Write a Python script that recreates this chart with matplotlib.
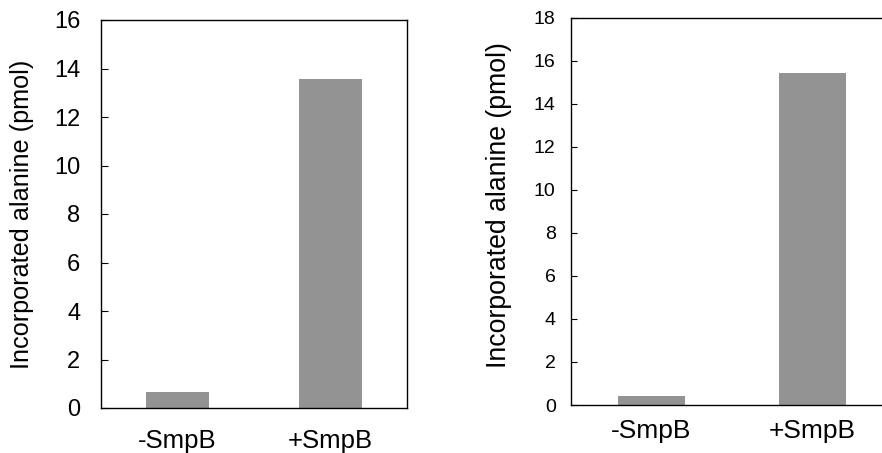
import matplotlib.pyplot as plt

# data
conditions = ['-SmpB', '+SmpB']
left_vals = [0.66, 13.55]
right_vals = [0.42, 15.4]
left_yticks = list(range(0, 17, 2))
right_yticks = list(range(0, 19, 2))

plt.rcParams['font.family'] = ['Liberation Sans', 'DejaVu Sans']

W, H = 882, 453
fig = plt.figure(figsize=(W / 100, H / 100), dpi=100)

bar_color = '#939393'

# left panel
ax1 = fig.add_axes([101 / W, (H - 408) / H, 306 / W, 388 / H])
ax1.bar(range(len(conditions)), left_vals, width=0.41, color=bar_color, edgecolor='none')
ax1.set_xlim(-0.5, 1.5)
ax1.set_ylim(0, 16)
ax1.set_yticks(left_yticks)
ax1.set_xticks(range(len(conditions)))
ax1.set_xticklabels(conditions, fontsize=18.5)
ax1.tick_params(axis='y', direction='in', length=5, pad=15, labelsize=17)
ax1.tick_params(axis='x', length=0, pad=15)
ax1.set_ylabel('Incorporated alanine (pmol)', fontsize=18.2)
ax1.yaxis.set_label_coords(-0.219, 0.5)
for s in ax1.spines.values():
    s.set_linewidth(1.0)

# right panel (cropped at the right edge in the original)
ax2 = fig.add_axes([571 / W, (H - 405) / H, 322 / W, 387.5 / H])
ax2.bar(range(len(conditions)), right_vals, width=0.41, color=bar_color, edgecolor='none')
ax2.set_xlim(-0.5, 1.5)
ax2.set_ylim(0, 18)
ax2.set_yticks(right_yticks)
ax2.set_xticks(range(len(conditions)))
ax2.set_xticklabels(conditions, fontsize=19)
ax2.tick_params(axis='y', direction='in', length=4, pad=11, labelsize=14)
ax2.tick_params(axis='x', length=0, pad=10)
ax2.set_ylabel('Incorporated alanine (pmol)', fontsize=19.2)
ax2.yaxis.set_label_coords(-0.183, 0.515)
for s in ax2.spines.values():
    s.set_linewidth(1.0)

fig.savefig('out.png', dpi=100)
